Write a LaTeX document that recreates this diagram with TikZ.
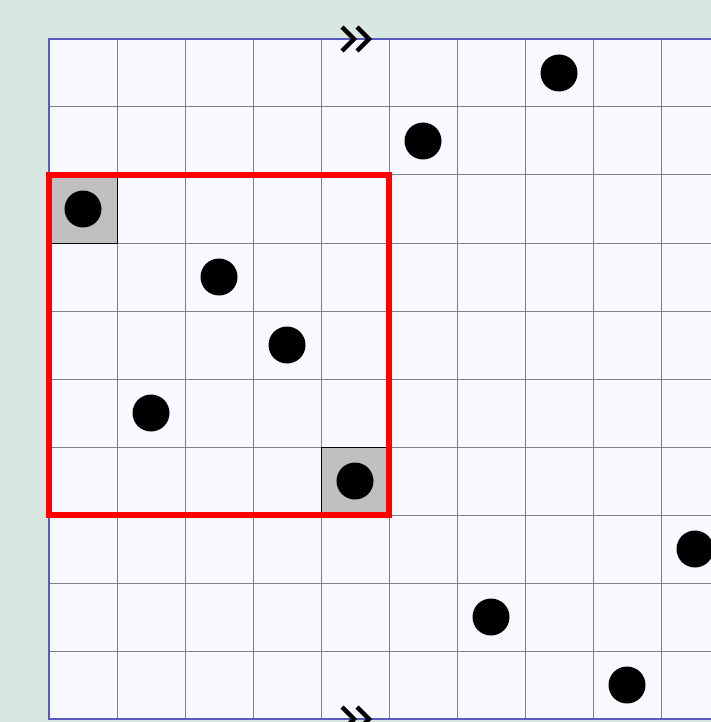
\documentclass[tikz,border=0pt]{standalone}
\usetikzlibrary{calc}
\begin{document}
\begin{tikzpicture}[x=1pt,y=-1pt,
  gridline/.style={draw=gridgray,line width=1pt},
  graycell/.style={fill=cellgray},
  celledge/.style={draw=black,line width=1pt},
  dot/.style={circle,fill=black,minimum size=37pt,inner sep=0pt},
  chev/.style={draw=black,line width=4.4pt,line cap=butt,line join=miter},
  redbox/.style={draw=red,line width=6pt}]
\definecolor{bggreen}{RGB}{216,232,224}
\definecolor{gridbg}{RGB}{248,248,255}
\definecolor{gridgray}{RGB}{128,128,140}
\definecolor{cellgray}{RGB}{192,192,192}
\definecolor{borderblue}{RGB}{90,90,190}
\useasboundingbox (0,0) rectangle (711,722);
\clip (0,0) rectangle (711,722);
\fill[bggreen] (0,0) rectangle (711,722);
\fill[gridbg] (49,39) rectangle (729,719);
% gray cells
\path[graycell] (49,175) rectangle (117,243);
\path[graycell] (321,447) rectangle (389,515);
% grid lines
\foreach \i in {1,...,9} {
  \draw[gridline] ({49+68*\i},39) -- ({49+68*\i},719);
  \draw[gridline] (49,{39+68*\i}) -- (729,{39+68*\i});
}
\path[celledge] (49,175) rectangle (117,243);
\path[celledge] (321,447) rectangle (389,515);
\draw[draw=borderblue,line width=2pt] (49,39) rectangle (729,719);
% red box
\draw[redbox] (49,175) rectangle (389,515);
% dots
\foreach \c/\r [count=\k] in {7/0,5/1,0/2,2/3,3/4,1/5,4/6,9/7,6/8,8/9} {
  \node[dot] (d\k) at ({83+68*\c},{73+68*\r}) {};
}
% chevron markers
\coordinate (topm) at (355,39);
\coordinate (botm) at (355,719);
\foreach \m in {topm,botm} {
  \draw[chev] ($(\m)+(-13,-12)$) -- ($(\m)+(-1,0)$) -- ($(\m)+(-13,12)$);
  \draw[chev] ($(\m)+(2,-12)$) -- ($(\m)+(14,0)$) -- ($(\m)+(2,12)$);
}
\end{tikzpicture}
\end{document}
